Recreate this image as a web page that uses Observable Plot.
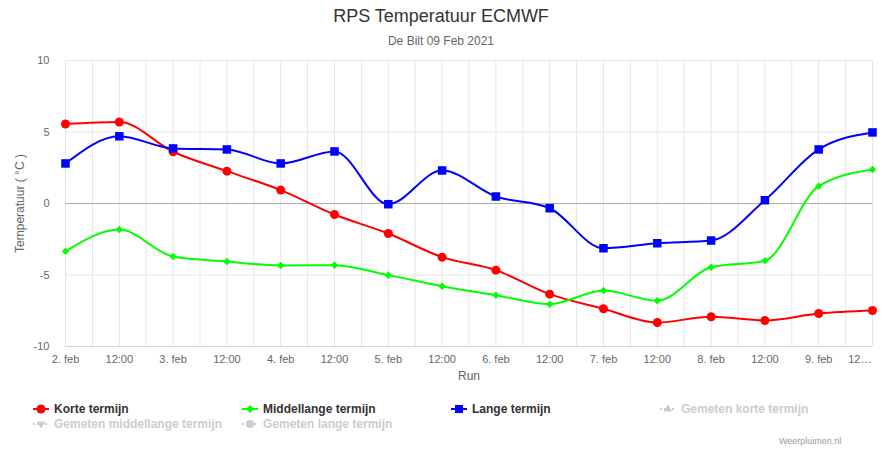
<!DOCTYPE html>
<html>
<head>
<meta charset="utf-8">
<script src="https://cdn.jsdelivr.net/npm/d3@7"></script>
<script src="https://cdn.jsdelivr.net/npm/@observablehq/plot@0.6"></script>
<style>
  html, body { margin: 0; padding: 0; background: #fff; }
  body { width: 882px; height: 450px; position: relative; overflow: hidden; font-family: "Liberation Sans", Arial, Helvetica, sans-serif; }
  #title { position: absolute; top: 6px; left: 0; width: 882px; text-align: center; font-size: 18px; color: #333; }
  #subtitle { position: absolute; top: 34px; left: 0; width: 882px; text-align: center; font-size: 12px; color: #666; }
  #chart { position: absolute; top: 50px; left: 0; }
  .leg { position: absolute; height: 15px; display: flex; align-items: center; font-size: 12px; font-weight: bold; white-space: nowrap; }
  .leg svg { margin-right: 5px; }
  #credits { position: absolute; left: 779px; top: 436px; font-size: 9px; color: #999; }
</style>
</head>
<body>
<div id="title">RPS Temperatuur ECMWF</div>
<div id="subtitle">De Bilt 09 Feb 2021</div>
<div id="chart"></div>
<div id="legend"></div>
<div id="credits">Weerpluimen.nl</div>
<script>
// ---- data ----
const tickLabels = ["2. feb","12:00","3. feb","12:00","4. feb","12:00","5. feb","12:00","6. feb","12:00","7. feb","12:00","8. feb","12:00","9. feb","12…"];
const korteTermijn = [5.56, 5.70, 3.62, 2.26, 0.94, -0.77, -2.10, -3.75, -4.66, -6.34, -7.36, -8.32, -7.92, -8.18, -7.69, -7.48];
const middellangeTermijn = [-3.34, -1.82, -3.71, -4.06, -4.33, -4.31, -5.01, -5.78, -6.41, -7.04, -6.08, -6.80, -4.46, -4.00, 1.21, 2.38];
const langeTermijn = [2.80, 4.70, 3.85, 3.78, 2.80, 3.64, -0.05, 2.31, 0.49, -0.33, -3.13, -2.78, -2.59, 0.23, 3.78, 4.97];
const yTicks = [-10, -5, 0, 5, 10];
const legendNames = ["Korte termijn", "Middellange termijn", "Lange termijn", "Gemeten korte termijn", "Gemeten middellange termijn", "Gemeten lange termijn"];

// ---- styles ----
const series = [
  {values: korteTermijn, color: "#ff0000", symbol: "circle", r: 4.5},
  {values: middellangeTermijn, color: "#00ff00", symbol: "diamond2", r: 3.4},
  {values: langeTermijn, color: "#0000ff", symbol: "square", r: 4.8}
];

const marks = [
  Plot.gridX(d3.range(0, 15.01, 0.5), {stroke: "#e6e6e6", strokeOpacity: 1}),
  Plot.gridY(yTicks.filter(d => d !== 0 && d !== -10), {stroke: "#e6e6e6", strokeOpacity: 1}),
  Plot.ruleY([0], {stroke: "#aaaaaa"}),
  Plot.ruleY([-10], {stroke: "#ccd6eb"}),
  Plot.axisY(yTicks, {tickSize: 0, tickPadding: 16, tickFormat: d => String(d), fill: "#666", fontSize: 11, label: null}),
  Plot.axisX(d3.range(0, tickLabels.length - 1), {tickSize: 0, tickPadding: 9, tickFormat: i => tickLabels[i], fill: "#666", fontSize: 11, label: null}),
  Plot.axisX([tickLabels.length - 1], {tickSize: 0, tickPadding: 9, tickFormat: i => tickLabels[i], textAnchor: "end", dx: -1, fill: "#666", fontSize: 11, label: null}),
  Plot.text(["Temperatuur ( °C )"], {frameAnchor: "left", textAnchor: "middle", rotate: -90, dx: -45, fill: "#666", fontSize: 12}),
  Plot.text(["Run"], {frameAnchor: "bottom", dy: 33, fill: "#666", fontSize: 12})
];
for (const s of series) {
  marks.push(Plot.line(s.values, {x: (d, i) => i, y: d => d, curve: "monotone-x", stroke: s.color, strokeWidth: 2}));
}
for (const s of series) {
  marks.push(Plot.dot(s.values, {x: (d, i) => i, y: d => d, symbol: s.symbol, r: s.r, fill: s.color, stroke: "none"}));
}

const chart = Plot.plot({
  width: 882,
  height: 340,
  marginLeft: 65,
  marginRight: 10,
  marginTop: 10,
  marginBottom: 44,
  style: {fontFamily: "Liberation Sans, Arial, Helvetica, sans-serif", fontSize: "11px", background: "transparent"},
  x: {domain: [0, tickLabels.length - 1], axis: null},
  y: {domain: [-10, 10], axis: null},
  marks
});
document.getElementById("chart").appendChild(chart);

// ---- legend ----
const legendSymbols = [
  {color: "#ff0000", sym: d3.symbolCircle, size: 64, dash: null, active: true},
  {color: "#00ff00", sym: d3.symbolDiamond2, size: 40, dash: null, active: true},
  {color: "#0000ff", sym: d3.symbolSquare, size: 64, dash: null, active: true},
  {color: "#cccccc", sym: d3.symbolTriangle, size: 30, dash: "2,2", active: false},
  {color: "#cccccc", sym: d3.symbolTriangle, size: 30, dash: "2,2", active: false, flip: true},
  {color: "#cccccc", sym: d3.symbolCircle, size: 50, dash: "2,2", active: false}
];
const legend = document.getElementById("legend");
legendNames.forEach((name, i) => {
  const col = i % 4, row = Math.floor(i / 4);
  const st = legendSymbols[i];
  const div = document.createElement("div");
  div.className = "leg";
  div.style.left = (33 + col * 209) + "px";
  div.style.top = (401 + row * 15) + "px";
  div.style.color = st.active ? "#333333" : "#cccccc";
  const svg = d3.create("svg").attr("width", 16).attr("height", 12);
  svg.append("line").attr("x1", 0).attr("x2", 16).attr("y1", 6).attr("y2", 6)
    .attr("stroke", st.color).attr("stroke-width", 2).attr("stroke-dasharray", st.dash);
  svg.append("path").attr("d", d3.symbol(st.sym, st.size)())
    .attr("transform", `translate(8,6)${st.flip ? " rotate(180)" : ""}`).attr("fill", st.color);
  div.appendChild(svg.node());
  const span = document.createElement("span");
  span.textContent = name;
  div.appendChild(span);
  legend.appendChild(div);
});
</script>
</body>
</html>
